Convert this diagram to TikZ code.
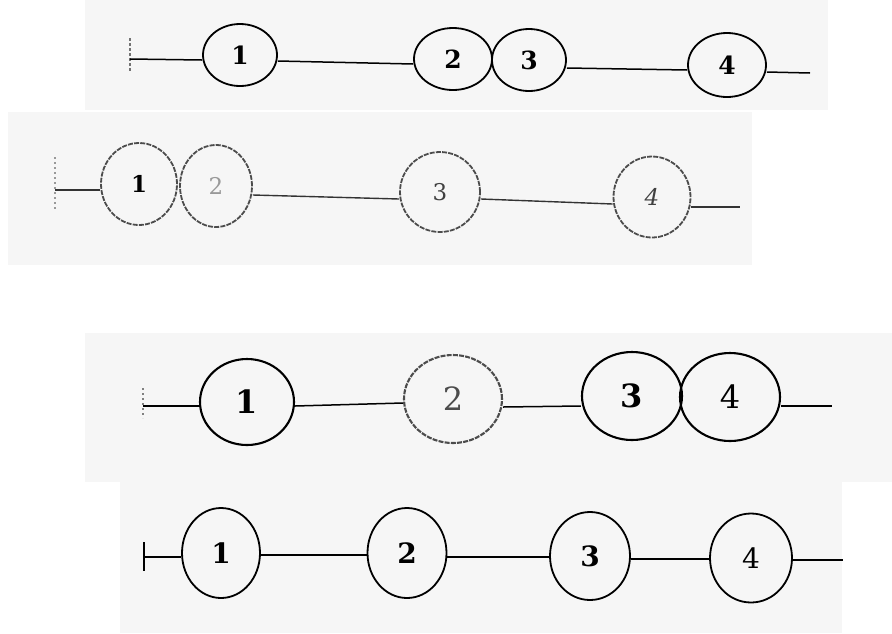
\documentclass[tikz,border=0pt]{standalone}
\usepackage{fontspec}
\setmainfont{DejaVu Serif}
\usetikzlibrary{shapes.geometric}
\begin{document}
\begin{tikzpicture}[x=1pt,y=-1pt,
  panel/.style={fill=black!3.5,draw=none},
  ring/.style={draw,ellipse,line width=1.8pt,inner sep=0pt},
  faded/.style={draw=black!70,dash pattern=on 5pt off 1.2pt},
  wire/.style={line width=1.5pt},
  fwire/.style={line width=1.4pt,draw=black!80},
  endtick/.style={line width=1.2pt},
  lblA/.style={font=\fontsize{25}{25}\selectfont\bfseries},
  lblB/.style={font=\fontsize{23}{23}\selectfont},
  lblC/.style={font=\fontsize{32}{32}\selectfont\bfseries},
  lblD/.style={font=\fontsize{28}{28}\selectfont\bfseries}]
\useasboundingbox (0,0) rectangle (892,633);
\fill[white] (0,0) rectangle (892,633);
% faint scan panels
\fill[panel] (85,0) rectangle (828,110);
\fill[panel] (8,112) rectangle (752,265);
\fill[panel] (85,333) rectangle (892,482);
\fill[panel] (120,482) rectangle (842,633);

% ---------- row 1 ----------
\coordinate (t1) at (130,59);
\coordinate (e1) at (810,73);
\node[ring,lblA,minimum width=74pt,minimum height=62pt] (a1) at (240,55) {1};
\node[ring,lblA,minimum width=78pt,minimum height=62pt] (a2) at (453,59) {2};
\node[ring,lblA,minimum width=74pt,minimum height=62pt] (a3) at (529,60) {3};
\node[ring,lblA,minimum width=78pt,minimum height=64pt] (a4) at (727,65) {4};
\draw[endtick,draw=black!55,dash pattern=on 3pt off 2pt] (130,38) -- (130,72);
\draw[wire] (t1) -- ([yshift=-5pt]a1.west);
\draw[wire] ([yshift=-6pt]a1.east) -- ([yshift=-5pt]a2.west);
\draw[wire] ([yshift=-8pt]a3.east) -- ([yshift=-5pt]a4.west);
\draw[wire] ([yshift=-7pt]a4.east) -- (e1);

% ---------- row 2 ----------
\coordinate (t2) at (55,190);
\coordinate (e2) at (740,207);
\node[ring,faded,font=\fontsize{23}{23}\selectfont\bfseries,minimum width=76pt,minimum height=82pt] (b1) at (139,184) {1};
\node[ring,faded,lblB,text=black!40,minimum width=72pt,minimum height=82pt] (b2) at (216,186) {2};
\node[ring,faded,lblB,text=black!75,minimum width=80pt,minimum height=80pt] (b3) at (440,192) {3};
\node[ring,faded,lblB,text=black!75,minimum width=77pt,minimum height=81pt] (b4) at (652,197) {\itshape 4};
\draw[endtick,draw=black!40,dash pattern=on 2pt off 3pt] (55,157) -- (55,210);
\draw[fwire] (t2) -- ([yshift=-6pt]b1.west);
\draw[fwire] ([yshift=-9pt]b2.east) -- ([yshift=-7pt]b3.west);
\draw[fwire] ([yshift=-7pt]b3.east) -- ([yshift=-7pt]b4.west);
\draw[fwire] ([yshift=-10pt]b4.east) -- (e2);

% ---------- row 3 ----------
\coordinate (t3) at (143,406);
\coordinate (e3) at (832,406);
\node[ring,lblC,line width=2.1pt,minimum width=94pt,minimum height=86pt] (c1) at (247,402) {1};
\node[ring,faded,font=\fontsize{32}{32}\selectfont,text=black!70,line width=2.1pt,minimum width=98pt,minimum height=88pt] (c2) at (453,399) {2};
\node[ring,lblC,line width=2.1pt,minimum width=100pt,minimum height=88pt] (c3) at (632,396) {3};
\node[ring,font=\fontsize{32}{32}\selectfont,line width=2.1pt,minimum width=100pt,minimum height=88pt] (c4) at (730,397) {4};
\draw[endtick,draw=black!50,dash pattern=on 2pt off 3pt] (143,388) -- (143,418);
\draw[wire] (t3) -- ([yshift=-4pt]c1.west);
\draw[wire] ([yshift=-4pt]c1.east) -- ([yshift=-4pt]c2.west);
\draw[wire] ([yshift=-8pt]c2.east) -- ([yshift=-10pt]c3.west);
\draw[wire] ([yshift=-9pt]c4.east) -- (e3);

% ---------- row 4 ----------
\coordinate (t4) at (144,557);
\coordinate (e4) at (843,560);
\node[ring,lblD,minimum width=78pt,minimum height=90pt] (d1) at (221,553) {1};
\node[ring,lblD,minimum width=79pt,minimum height=90pt] (d2) at (407,553) {2};
\node[ring,lblD,minimum width=80pt,minimum height=88pt] (d3) at (590,556) {3};
\node[ring,font=\fontsize{28}{28}\selectfont,minimum width=82pt,minimum height=89pt] (d4) at (751,558) {4};
\draw[endtick,line width=1.5pt] (144,542) -- (144,571);
\draw[wire] (t4) -- ([yshift=-4pt]d1.west);
\draw[wire] ([yshift=-2pt]d1.east) -- ([yshift=-2pt]d2.west);
\draw[wire] ([yshift=-4pt]d2.east) -- ([yshift=-1pt]d3.west);
\draw[wire] ([yshift=-3pt]d3.east) -- ([yshift=-1pt]d4.west);
\draw[wire] ([yshift=-2pt]d4.east) -- (e4);
\end{tikzpicture}
\end{document}
